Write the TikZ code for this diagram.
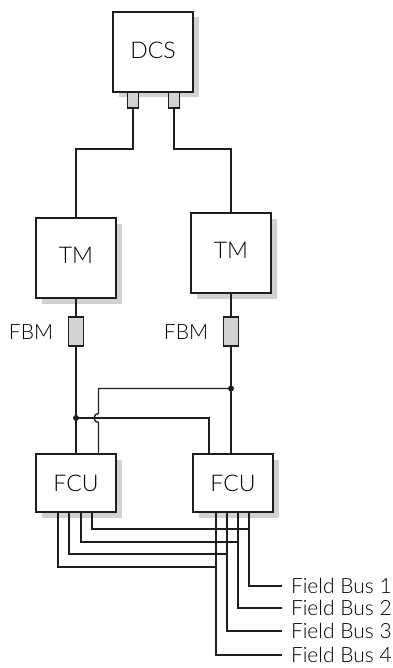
\documentclass[tikz,border=0pt]{standalone}
\usepackage{fontspec}
\setmainfont{Lato Light}
\usetikzlibrary{shadows}
\definecolor{shadowgray}{HTML}{D2D2D2}
\definecolor{portgray}{HTML}{D0D2D4}
\definecolor{linegray}{HTML}{1E1E1E}
\tikzset{
  unitbox/.style={draw=linegray, fill=white, line width=1.5pt, inner sep=0pt, outer sep=0pt,
    general shadow={fill=shadowgray, shadow xshift=5.5pt, shadow yshift=-5.5pt}},
  portbox/.style={draw=linegray, fill=portgray, line width=1.4pt, inner sep=0pt, outer sep=0pt},
  wire/.style={draw=linegray, line width=1.4pt},
  junction/.style={circle, fill=linegray, inner sep=0pt, minimum size=6pt},
  lbl/.style={font=\fontsize{23}{25}\selectfont},
  buslbl/.style={font=\fontsize{21}{23}\selectfont, anchor=west, inner xsep=9pt, inner ysep=0pt, outer sep=0pt},
}
\begin{document}
\begin{tikzpicture}[x=1pt,y=-1pt]
\useasboundingbox (0,0) rectangle (392,668);
% boxes
\node[unitbox, minimum width=80pt, minimum height=80pt, lbl] (dcs) at (153,52) {\raisebox{3pt}{DCS}};
\node[unitbox, minimum width=80pt, minimum height=80pt, lbl] (tm1) at (76,258) {\raisebox{5pt}{TM}\hspace{7pt}};
\node[unitbox, minimum width=80pt, minimum height=80pt, lbl] (tm2) at (231,253) {\raisebox{5pt}{TM}\hspace{8pt}};
\node[unitbox, minimum width=80pt, minimum height=58pt, lbl] (fcu1) at (76,483) {FCU\hspace{6pt}};
\node[unitbox, minimum width=80pt, minimum height=58pt, lbl] (fcu2) at (233,483) {FCU\hspace{4pt}};
% ports
\node[portbox, minimum width=11pt, minimum height=16pt] (p1) at (133,100) {};
\node[portbox, minimum width=11pt, minimum height=16pt] (p2) at (174,100) {};
\node[portbox, minimum width=15pt, minimum height=29pt] (fbm1) at (76,331.5) {};
\node[portbox, minimum width=15pt, minimum height=29pt] (fbm2) at (231,331.5) {};
\node[font=\fontsize{21}{23}\selectfont] (fbml1) at (31,332) {FBM};
\node[font=\fontsize{21}{23}\selectfont] (fbml2) at (186,332) {FBM};
% DCS to TM
\draw[wire] (p1.south) -- ++(0,41) -| (tm1.north);
\draw[wire] (p2.south) -- ++(0,41) -| (tm2.north);
% TM to FBM to FCU
\draw[wire] (tm1.south) -- (fbm1.north);
\draw[wire] (tm2.south) -- (fbm2.north);
\draw[wire] (fbm1.south) -- (fcu1.north);
\draw[wire] (fbm2.south) -- (fbm2.south |- fcu2.north);
% junctions
\node[junction] (j1) at (76,418) {};
\node[junction] (j2) at (231,388.5) {};
% cross links
\draw[wire] (j1.center) -- (209,418) -- (209,454);
\draw[wire] (j2.center) -- (98.5,388.5) -- (98.5,413.5) arc[start angle=270, end angle=90, radius=4.5] -- (98.5,454);
% field buses
\node[buslbl] (fb1) at (282,586) {Field Bus 1};
\node[buslbl] (fb2) at (282,608) {Field Bus 2};
\node[buslbl] (fb3) at (282,631) {Field Bus 3};
\node[buslbl] (fb4) at (282,655) {Field Bus 4};
\draw[wire] (92,512) -- (92,529) -- (249,529);
\draw[wire] (81,512) -- (81,542) -- (238,542);
\draw[wire] (69,512) -- (69,554) -- (227,554);
\draw[wire] (58,512) -- (58,567) -- (216,567);
\draw[wire] (249,512) |- (fb1.west);
\draw[wire] (238,512) |- (fb2.west);
\draw[wire] (227,512) |- (fb3.west);
\draw[wire] (216,512) |- (fb4.west);
\end{tikzpicture}
\end{document}
